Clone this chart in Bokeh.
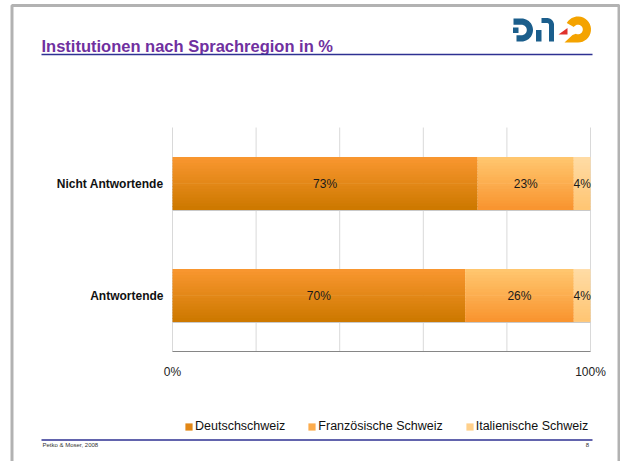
import numpy as np
from bokeh.plotting import figure
from bokeh.models import (ColumnDataSource, Range1d, Label, BoxAnnotation, PolyAnnotation,
                          Legend, LegendItem)
from bokeh.core.properties import value
from bokeh.embed import file_html
from bokeh.resources import INLINE

# ---------------- data ----------------
categories = ["Antwortende", "Nicht Antwortende"]          # bottom -> top
series_names = ["Deutschschweiz", "Französische Schweiz", "Italienische Schweiz"]
deutschschweiz = [70, 73]
franzoesische_schweiz = [26, 23]
italienische_schweiz = [4, 4]
x_ticks = [0, 20, 40, 60, 80, 100]
x_tick_labels = ["0%", "", "", "", "", "100%"]
title_text = "Institutionen nach Sprachregion in %"
footer_left = "Petko & Moser, 2008"
footer_right = "8"

# ---------------- style / layout ----------------
FONT = "Liberation Sans"
grad = [("#F8962F", "#CE7900"), ("#FFC66E", "#F99530"), ("#FFDBA4", "#FFC674")]
W, H = 620, 461
X0_PX, X100_PX = 172, 590        # where 0 % and 100 % sit on the canvas
YB_PX, YT_PX = 351, 127          # bottom / top of the category band
px_x = (X100_PX - X0_PX) / 100.0
px_y = (YB_PX - YT_PX) / len(categories)


def sy(Y):                        # canvas y (from top) -> screen units (from bottom)
    return H - Y


def mix(c1, c2, t):
    a = [int(c1[i:i + 2], 16) for i in (1, 3, 5)]
    b = [int(c2[i:i + 2], 16) for i in (1, 3, 5)]
    return "#%02x%02x%02x" % tuple(round(a[k] + (b[k] - a[k]) * t) for k in range(3))


p = figure(width=W, height=H, output_backend="svg", toolbar_location=None, title=None,
           x_range=Range1d(-X0_PX / px_x, (W - X0_PX) / px_x),
           y_range=Range1d(-(H - YB_PX) / px_y, len(categories) + YT_PX / px_y),
           x_axis_location=None, y_axis_location=None,
           min_border=0, min_border_left=0, min_border_right=0,
           min_border_top=0, min_border_bottom=0)
p.outline_line_color = None
p.grid.visible = False
p.background_fill_color = "white"
p.border_fill_color = "white"

ncat = len(categories)
cat_y = [i + 0.5 for i in range(ncat)]

# vertical grid lines (x axis grid)
p.segment(x0=x_ticks, y0=[0] * len(x_ticks), x1=x_ticks, y1=[ncat] * len(x_ticks),
          line_color="#d9d9d9", line_width=1)

# stacked bars with a vertical gradient (drawn as thin slices)
series_vals = [deutschschweiz, franzoesische_schweiz, italienische_schweiz]
rows_y, rows_left, rows_right, rows_s = [], [], [], []
for ci in range(ncat):
    acc = 0
    for si, vals in enumerate(series_vals):
        rows_y.append(cat_y[ci])
        rows_left.append(acc)
        rows_right.append(acc + vals[ci])
        rows_s.append(si)
        acc += vals[ci]

N = 18
BH = 0.465
# faint shadow under each bar
p.hbar(y=[v - BH / 2 - 0.006 for v in cat_y], left=[0] * ncat,
       right=[sum(vals[ci] for vals in series_vals) for ci in range(ncat)],
       height=0.014, fill_color="#c9c9c9", line_color=None)
mid_renderer = None
for i in range(N):
    t = i / (N - 1)
    off = BH / 2 - (i + 0.5) * BH / N
    src = ColumnDataSource(dict(y=[v + off for v in rows_y], left=rows_left, right=rows_right,
                                color=[mix(grad[s][0], grad[s][1], t) for s in rows_s]))
    r = p.hbar(y="y", left="left", right="right", height=BH / N * 1.25,
               fill_color="color", line_color=None, source=src)
    if i == N // 2:
        mid_renderer = r

# x axis line
p.segment(x0=[x_ticks[0]], y0=[0], x1=[x_ticks[-1]], y1=[0], line_color="#868686", line_width=1)

# x tick labels
p.text(x=x_ticks, y=[0] * len(x_ticks), text=x_tick_labels, y_offset=13,
       text_align="center", text_baseline="top", text_font=value(FONT),
       text_font_size="12px", text_color="#222222")

# category labels (y axis)
p.text(x=[0] * ncat, y=cat_y, text=categories, x_offset=-9, text_align="right",
       text_baseline="middle", text_font=value(FONT), text_font_style="bold",
       text_font_size="12px", text_color="#111111")

# data labels
p.text(x=[(l + r) / 2 for l, r in zip(rows_left, rows_right)], y=rows_y,
       text=["%d%%" % (r - l) for l, r in zip(rows_left, rows_right)],
       text_align="center", text_baseline="middle", text_font=value(FONT),
       text_font_size="12px", text_color="#1a1a1a")

# legend
items = [LegendItem(label=name, renderers=[mid_renderer], index=rows_s.index(si))
         for si, name in enumerate(series_names)]
legend = Legend(items=items, orientation="horizontal", location=(184, sy(433)),
                glyph_width=9, glyph_height=9, label_standoff=2, spacing=22,
                padding=0, margin=0, border_line_color=None, background_fill_alpha=0,
                label_text_font=FONT, label_text_font_size="12.5px",
                label_text_color="#111111", label_height=14)
p.add_layout(legend)

# ---------------- slide decorations ----------------
p.add_layout(BoxAnnotation(left=11.5, right=618.5, top=sy(5), bottom=-20,
                           left_units="screen", right_units="screen", top_units="screen",
                           bottom_units="screen", fill_alpha=0, line_color="black",
                           line_width=3))
p.add_layout(Label(x=41, y=sy(45), x_units="screen", y_units="screen", text=title_text,
                   text_font=FONT, text_font_style="bold", text_font_size="16.5px",
                   text_color="#7030A0", text_baseline="alphabetic"))
for yy in (54, 439.5):
    p.add_layout(BoxAnnotation(left=41, right=592, top=sy(yy - 0.75), bottom=sy(yy + 0.75),
                               left_units="screen", right_units="screen", top_units="screen",
                               bottom_units="screen", fill_color="#2E3192", fill_alpha=1,
                               line_color=None))
p.add_layout(Label(x=42, y=sy(444), x_units="screen", y_units="screen", text=footer_left,
                   text_font=FONT, text_font_size="6px", text_color="#333333",
                   text_baseline="middle"))
p.add_layout(Label(x=587, y=sy(444), x_units="screen", y_units="screen", text=footer_right,
                   text_font=FONT, text_font_size="6px", text_color="#333333",
                   text_baseline="middle", text_align="center"))


def arc(cx, cy, r, a0, a1, n=24):
    a = np.radians(np.linspace(a0, a1, n))
    return list(cx + r * np.cos(a)), list(cy - r * np.sin(a))


def poly(xs, ys, color):
    p.add_layout(PolyAnnotation(xs=list(xs), ys=[sy(y) for y in ys],
                                xs_units="screen", ys_units="screen",
                                fill_color=color, fill_alpha=1, line_color=None))


BLUE, ORANGE, RED = "#1B5E8C", "#F4A300", "#E0312B"
# "P": reversed C with a dot
cx, cy, R, r = 521, 29.5, 11.5, 5.3
ox, oy = arc(cx, cy, R, 90, -90)
ix, iy = arc(cx, cy, r, -90, 90)
poly([513] + ox + [516, 516] + ix + [513], [cy - R] + oy + [cy + R, cy + r] + iy + [cy - r], BLUE)
poly([512.5, 518, 518, 512.5], [27, 27, 32.5, 32.5], BLUE)
# "H": lower-left block + hooked right part
poly([535.5, 541, 541, 535.5], [29.5, 29.5, 41, 41], BLUE)
cx2, cy2, R2, r2 = 546.5, 24.5, 7, 2
ox, oy = arc(cx2, cy2, R2, 90, 0)
ix, iy = arc(cx2, cy2, r2, 0, 90)
poly([541] + ox + [553.5, 548.5] + ix + [541],
     [17.5] + oy + [41, 41] + iy + [22.5], BLUE)
# red wedge
poly([558, 567, 567], [34, 27.5, 34], RED)
# orange "Z"
cx3, cy3, R3, r3 = 577.5, 29, 13, 4.8
ox, oy = arc(cx3, cy3, R3, 150, -90)
ix, iy = arc(cx3, cy3, r3, -115, 150)
poly(ox + [564, 572] + ix, oy + [cy3 + R3, 34.5] + iy, ORANGE)

open("out.html", "w").write(file_html(p, INLINE))
